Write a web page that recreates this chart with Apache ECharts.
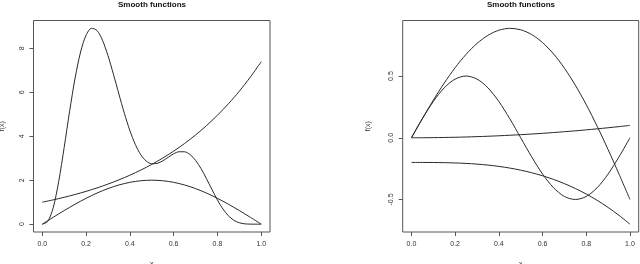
<!DOCTYPE html>
<html>
<head>
<meta charset="utf-8">
<script src="https://cdn.jsdelivr.net/npm/echarts@6/dist/echarts.min.js"></script>
<style>html,body{margin:0;padding:0;background:#fff}#c{width:640px;height:264px}</style>
</head>
<body>
<div id="c"></div>
<script>
// ---- data ----
const xStep05 = [0,0.05,0.1,0.15,0.2,0.25,0.3,0.35,0.4,0.45,0.5,0.55,0.6,0.65,0.7,0.75,0.8,0.85,0.9,0.95,1];
const xStep025 = [0,0.025,0.05,0.075,0.1,0.125,0.15,0.175,0.2,0.225,0.25,0.275,0.3,0.325,0.35,0.375,0.4,0.425,0.45,0.475,0.5,0.525,0.55,0.575,0.6,0.625,0.65,0.675,0.7,0.725,0.75,0.775,0.8,0.825,0.85,0.875,0.9,0.925,0.95,0.975,1];

// left panel
const leftHump = [0,0.3129,0.618,0.908,1.1756,1.4142,1.618,1.782,1.9021,1.9754,2,1.9754,1.9021,1.782,1.618,1.4142,1.1756,0.908,0.618,0.3129,0];
const leftGrowth = [1,1.1052,1.2214,1.3499,1.4918,1.6487,1.8221,2.0138,2.2255,2.4596,2.7183,3.0042,3.3201,3.6693,4.0552,4.4817,4.953,5.4739,6.0496,6.6859,7.3891];
const leftBimodal = [0,0.121,0.748,1.935,3.487,5.139,6.644,7.83,8.59,8.906,8.807,8.364,7.669,6.82,5.918,5.042,4.261,3.625,3.157,2.867,2.747,2.764,2.878,3.041,3.199,3.293,3.292,3.166,2.903,2.529,2.066,1.575,1.1,0.692,0.381,0.176,0.063,0.015,0.002,0,0];

// right panel
const rightBig = [0,0.1552,0.304,0.4428,0.5678,0.6759,0.764,0.8298,0.8711,0.8865,0.875,0.8365,0.7711,0.6798,0.564,0.4259,0.2678,0.0928,-0.096,-0.2948,-0.5];
const rightWave = [0,0.1545,0.2939,0.4045,0.4755,0.5,0.4755,0.4045,0.2939,0.1545,0,-0.1545,-0.2939,-0.4045,-0.4755,-0.5,-0.4755,-0.4045,-0.2939,-0.1545,0];
const rightFlat = [0,0.00025,0.001,0.00225,0.004,0.00625,0.009,0.01225,0.016,0.02025,0.025,0.03025,0.036,0.04225,0.049,0.05625,0.064,0.07225,0.081,0.09025,0.1];
const rightDown = [-0.2,-0.2001,-0.2005,-0.2017,-0.204,-0.2078,-0.2135,-0.2214,-0.232,-0.2456,-0.2625,-0.2832,-0.308,-0.3373,-0.3715,-0.4109,-0.456,-0.5071,-0.5645,-0.6287,-0.7];

const xTicks = [0,0.2,0.4,0.6,0.8,1];
const leftYTicks = [0,2,4,6,8];
const rightYTicks = [-0.5,0,0.5];
const titleText = 'Smooth functions';

// ---- chart ----
const pair = (xs, ys) => xs.map((x, i) => [x, ys[i]]);
const FONT = 'Liberation Sans, Arial, sans-serif';
const LINE = '#2a2a2a';
const BOX = '#555';

function xAxisCfg(gi) {
  return {
    gridIndex: gi, type: 'value', min: -0.04, max: 1.04, position: 'bottom',
    name: 'x', nameLocation: 'middle', nameGap: 29,
    nameTextStyle: { fontSize: 7, color: '#333', fontFamily: FONT },
    axisLine: { show: false, onZero: false },
    axisTick: { show: true, inside: false, customValues: xTicks, length: 4, lineStyle: { color: BOX } },
    axisLabel: { customValues: xTicks, formatter: v => v.toFixed(1), fontSize: 7, color: '#333', margin: 9, fontFamily: FONT },
    splitLine: { show: false }
  };
}
function yAxisCfg(gi, min, max, ticks, gap, dec) {
  return {
    gridIndex: gi, type: 'value', min: min, max: max, position: 'left',
    name: 'f(x)', nameLocation: 'middle', nameGap: gap, nameRotate: 90,
    nameTextStyle: { fontSize: 7, color: '#333', fontFamily: FONT },
    axisLine: { show: false, onZero: false },
    axisTick: { show: true, inside: false, customValues: ticks, length: 4, lineStyle: { color: BOX } },
    axisLabel: { customValues: ticks, rotate: 90, formatter: v => v.toFixed(dec), fontSize: 7, color: '#333', margin: 8, fontFamily: FONT },
    splitLine: { show: false }
  };
}
function ser(gi, xs, ys) {
  return {
    type: 'line', xAxisIndex: gi, yAxisIndex: gi, data: pair(xs, ys),
    showSymbol: false, smooth: 0.3, lineStyle: { color: LINE, width: 1 }, silent: true
  };
}

const chart = echarts.init(document.getElementById('c'), null, { renderer: 'canvas' });
chart.setOption({
  animation: false,
  backgroundColor: '#fff',
  title: [
    { text: titleText, left: 152, top: 1, padding: 0, textAlign: 'center', textStyle: { fontSize: 8, fontWeight: 'bold', color: '#111', fontFamily: FONT } },
    { text: titleText, left: 521, top: 1, padding: 0, textAlign: 'center', textStyle: { fontSize: 8, fontWeight: 'bold', color: '#111', fontFamily: FONT } }
  ],
  grid: [
    { left: 33.5, top: 20.5, width: 236.5, height: 211.5, show: true, borderColor: BOX, borderWidth: 1, backgroundColor: 'transparent', containLabel: false, outerBoundsMode: 'none' },
    { left: 402.7, top: 20.5, width: 236, height: 211.5, show: true, borderColor: BOX, borderWidth: 1, backgroundColor: 'transparent', containLabel: false, outerBoundsMode: 'none' }
  ],
  xAxis: [xAxisCfg(0), xAxisCfg(1)],
  yAxis: [
    yAxisCfg(0, -0.3564, 9.2624, leftYTicks, 28, 0),
    yAxisCfg(1, -0.7635, 0.95, rightYTicks, 31, 1)
  ],
  series: [
    ser(0, xStep05, leftHump),
    ser(0, xStep05, leftGrowth),
    ser(0, xStep025, leftBimodal),
    ser(1, xStep05, rightBig),
    ser(1, xStep05, rightWave),
    ser(1, xStep05, rightFlat),
    ser(1, xStep05, rightDown)
  ]
});
</script>
</body>
</html>
